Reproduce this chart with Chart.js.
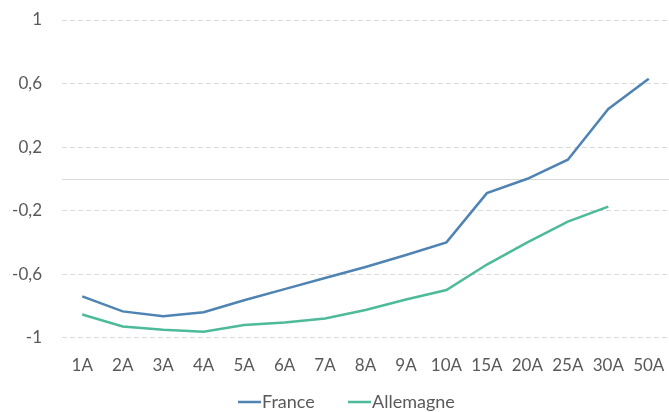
<!DOCTYPE html>
<html>
<head>
<meta charset="utf-8">
<script src="https://cdn.jsdelivr.net/npm/chart.js@4"></script>
<style>
html,body{margin:0;padding:0;background:#fff;}
#wrap{width:669px;height:412px;position:relative;}
</style>
</head>
<body>
<div id="wrap"><canvas id="c" width="669" height="412"></canvas></div>
<script>
const categories = ['1A','2A','3A','4A','5A','6A','7A','8A','9A','10A','15A','20A','25A','30A','50A'];
const franceValues = [-0.74,-0.835,-0.865,-0.84,-0.765,-0.695,-0.625,-0.555,-0.48,-0.40,-0.09,0.0,0.12,0.44,0.63];
const allemagneValues = [-0.855,-0.93,-0.95,-0.963,-0.92,-0.905,-0.88,-0.826,-0.76,-0.70,-0.54,-0.40,-0.27,-0.175,null];
const seriesNames = ['France','Allemagne'];
const seriesColors = ['#4f83b3','#4dba9a'];
const yTickValues = [-1,-0.6,-0.2,0.2,0.6,1];

const FONT = 'Lato';
const TXT = '#595959';

const zeroLine = {
  id:'zeroLine',
  beforeDatasetsDraw(chart){
    const y = chart.scales.y.getPixelForValue(0);
    const a = chart.chartArea, ctx = chart.ctx;
    ctx.save();
    ctx.strokeStyle = '#d9d9d9';
    ctx.lineWidth = 1;
    ctx.beginPath();
    ctx.moveTo(a.left, Math.round(y)+0.5);
    ctx.lineTo(a.right, Math.round(y)+0.5);
    ctx.stroke();
    ctx.restore();
  }
};

const customLegend = {
  id:'customLegend',
  afterDraw(chart){
    const ctx = chart.ctx;
    ctx.save();
    ctx.font = '18px ' + FONT;
    ctx.textBaseline = 'middle';
    const lineW = 23, gapText = 1;
    const starts = [238, 348];
    const y = 402;
    seriesNames.forEach((n,i)=>{
      const x = starts[i];
      ctx.strokeStyle = seriesColors[i];
      ctx.lineWidth = 2.5;
      ctx.beginPath();
      ctx.moveTo(x, y);
      ctx.lineTo(x+lineW, y);
      ctx.stroke();
      ctx.fillStyle = TXT;
      ctx.fillText(n, x + lineW + gapText, y);
    });
    ctx.restore();
  }
};

new Chart(document.getElementById('c'), {
  type:'line',
  data:{
    labels: categories,
    datasets:[
      {label:seriesNames[0], data:franceValues, borderColor:seriesColors[0], backgroundColor:seriesColors[0], borderWidth:2.5, pointRadius:0, tension:0, fill:false},
      {label:seriesNames[1], data:allemagneValues, borderColor:seriesColors[1], backgroundColor:seriesColors[1], borderWidth:2.5, pointRadius:0, tension:0, fill:false, spanGaps:false}
    ]
  },
  options:{
    responsive:false,
    animation:false,
    layout:{padding:{top:20,right:0,bottom:18,left:0}},
    plugins:{legend:{display:false}, tooltip:{enabled:false}},
    scales:{
      x:{
        offset:true,
        afterFit(s){ s.paddingLeft = 0; s.paddingRight = 0; },
        grid:{display:false, drawTicks:false},
        border:{display:false},
        ticks:{color:TXT, font:{family:FONT, size:17}, padding:18, maxRotation:0, autoSkip:false}
      },
      y:{
        min:-1, max:1,
        afterFit(s){ s.width = 62; s.paddingTop = 0; s.paddingBottom = 0; },
        afterBuildTicks(s){ s.ticks = yTickValues.map(v=>({value:v})); },
        grid:{color:'#d9d9d9', lineWidth:1, drawTicks:false},
        border:{display:false, dash:[5,3]},
        ticks:{color:TXT, font:{family:FONT, size:17}, padding:20,
          callback:(v)=> String(Math.round(v*10)/10).replace('.',',')}
      }
    }
  },
  plugins:[zeroLine, customLegend]
});
</script>
</body>
</html>
